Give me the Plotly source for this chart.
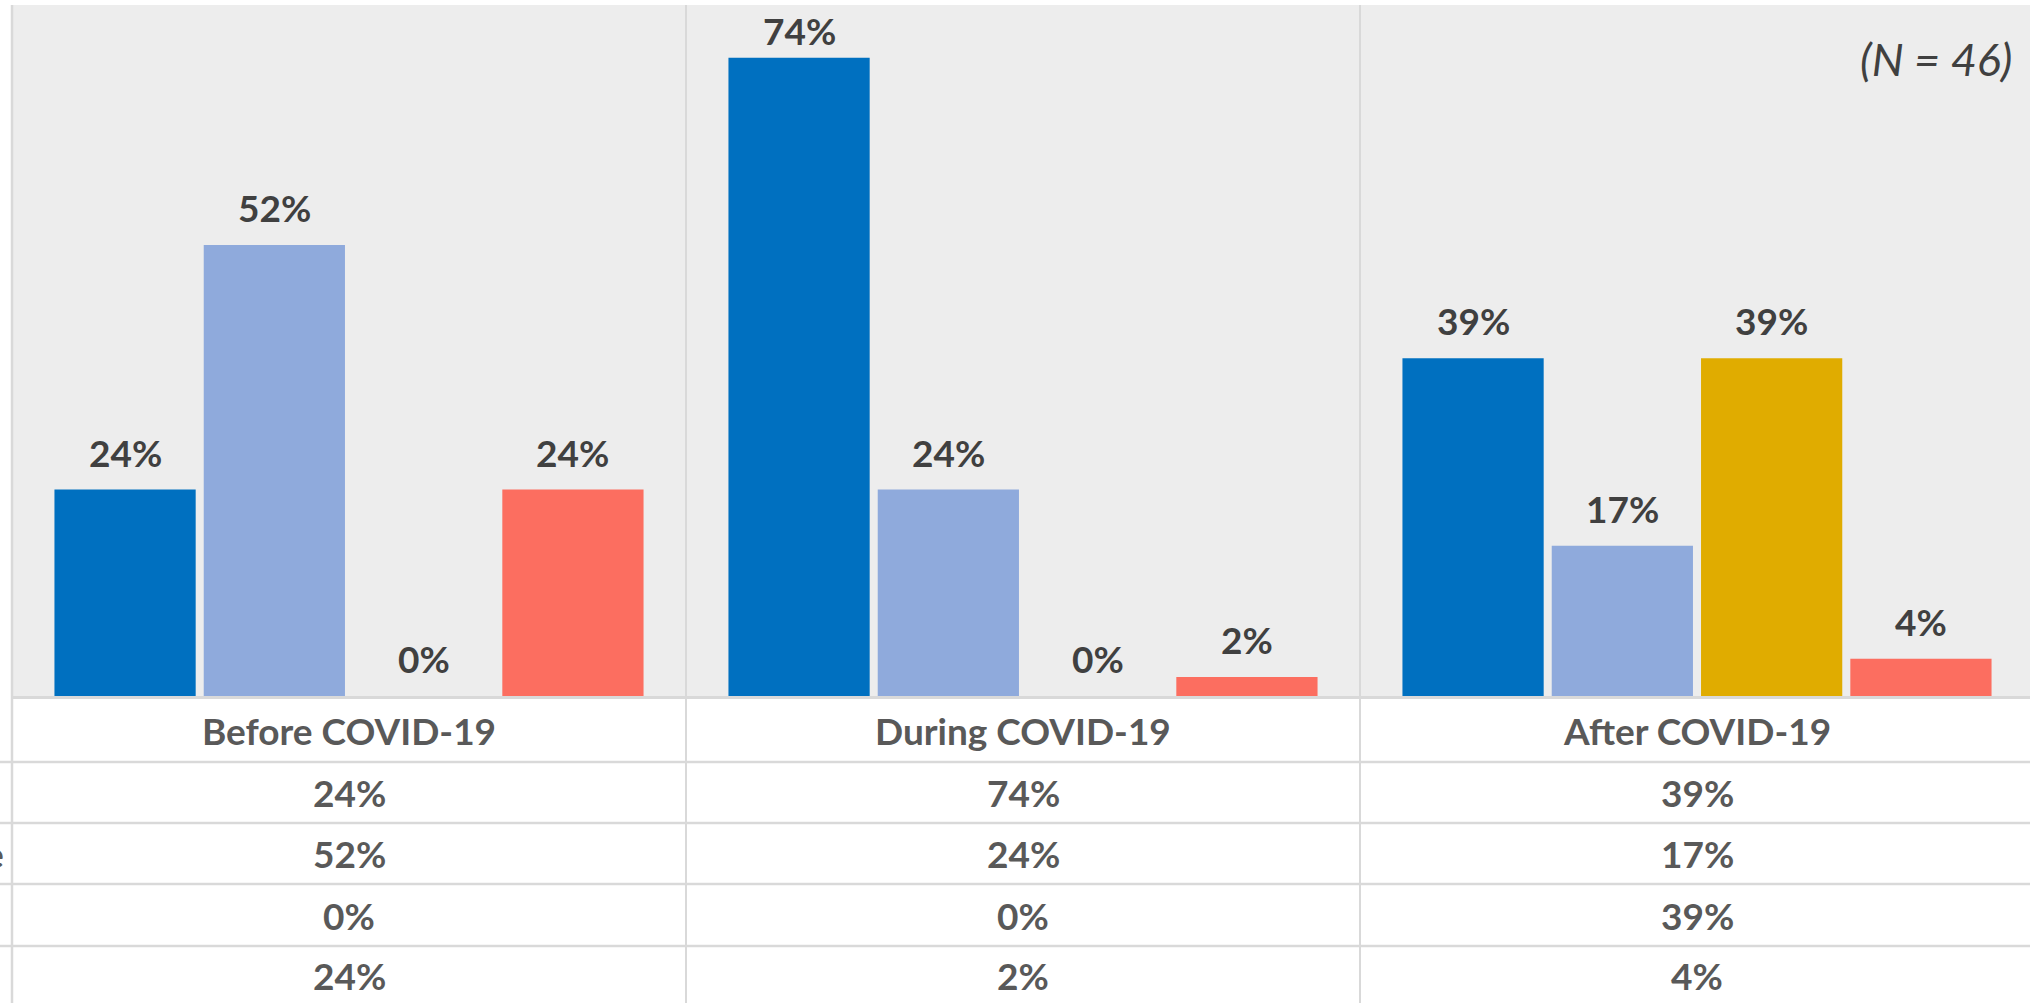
import plotly.graph_objects as go

# ---- data ----
periods = ["Before COVID-19", "During COVID-19", "After COVID-19"]
series_names = ["Series 1", "Series 2", "Series 3", "Series 4"]
series_values = [
    [0.239, 0.739, 0.391],
    [0.522, 0.239, 0.174],
    [0.0, 0.0, 0.391],
    [0.239, 0.022, 0.043],
]
series_colors = ["#0070C0", "#8FAADC", "#E0AC00", "#FC6E60"]
note_text = "(N = 46)"
cut_row_labels = ["", "Online", "", ""]

# ---- layout geometry (pixels) ----
W, H = 2030, 1003
L, T = 12, 5
plot_bottom = 696
plot_h = plot_bottom - T
cat_w = 674.0
Y_MAX = 0.8
BARGAP, BARGROUPGAP = 0.114, 0.054
row_lines_px = [762, 823, 884, 946]
header_center_px = 730
row_centers_px = [792, 853, 915, 975]

def py(p):
    return (plot_bottom - p) / plot_h

FONT = "Lato, 'Open Sans', sans-serif"
LABEL_COLOR = "#404040"
TABLE_COLOR = "#595959"
GRID = "#D9D9D9"

fig = go.Figure()
for name, vals, col in zip(series_names, series_values, series_colors):
    fig.add_trace(go.Bar(
        x=periods, y=vals, name=name,
        marker=dict(color=col, line=dict(width=0)),
        hoverinfo="skip",
    ))

annotations = []
# data labels above bars (at the bar's data value, shifted to its group slot);
# labels near the top are pulled down to stay inside the plot, like the original
slot = cat_w * (1 - BARGAP) / len(series_values)
for k, vals in enumerate(series_values):
    for i, p in enumerate(periods):
        space_above = vals[i] and (1 - vals[i] / Y_MAX) * plot_h
        yshift = min(13, (1 - vals[i] / Y_MAX) * plot_h - 50)
        annotations.append(dict(
            x=p, y=vals[i], xref="x", yref="y",
            text=f"<b>{round(vals[i]*100)}%</b>", showarrow=False,
            xanchor="center", yanchor="bottom",
            xshift=(k - (len(series_values) - 1) / 2) * slot, yshift=yshift,
            font=dict(family=FONT, size=37, color=LABEL_COLOR)))

shapes = []
# left border
shapes.append(dict(type="line", xref="paper", yref="paper", x0=0, x1=0,
                   y0=1, y1=py(H + 10), line=dict(color=GRID, width=2.5)))
# category dividers
for xb in [0.5, 1.5]:
    shapes.append(dict(type="line", xref="x", yref="paper", x0=xb, x1=xb,
                       y0=1, y1=py(H + 10), line=dict(color=GRID, width=2)))
# table horizontal lines
for rp in row_lines_px:
    shapes.append(dict(type="line", xref="paper", yref="paper", x0=-0.01, x1=1,
                       y0=py(rp), y1=py(rp), line=dict(color=GRID, width=2.5)))

for i, p in enumerate(periods):
    annotations.append(dict(x=i, y=py(header_center_px), xref="x", yref="paper",
                            text=f"<b>{p}</b>", showarrow=False,
                            font=dict(family=FONT, size=37, color=TABLE_COLOR),
                            xanchor="center", yanchor="middle"))
    for r, vals in enumerate(series_values):
        annotations.append(dict(x=i, y=py(row_centers_px[r]), xref="x", yref="paper",
                                text=f"<b>{round(vals[i]*100)}%</b>", showarrow=False,
                                font=dict(family=FONT, size=37, color=TABLE_COLOR),
                                xanchor="center", yanchor="middle"))
for r, lab in enumerate(cut_row_labels):
    if lab:
        annotations.append(dict(x=-(L - 6) / (W - L), y=py(row_centers_px[r]),
                                xref="paper", yref="paper", text=f"<b>{lab}</b>",
                                showarrow=False, xanchor="right", yanchor="middle",
                                font=dict(family=FONT, size=37, color=TABLE_COLOR)))
annotations.append(dict(x=(2014 - L) / (W - L), y=py(59), xref="paper", yref="paper",
                        text=f"<i>{note_text}</i>", showarrow=False,
                        xanchor="right", yanchor="middle",
                        font=dict(family=FONT, size=45, color=LABEL_COLOR)))

fig.update_layout(
    width=W, height=H,
    margin=dict(l=L, r=0, t=T, b=H - plot_bottom, pad=0),
    paper_bgcolor="white", plot_bgcolor="#EDEDED",
    barmode="group", bargap=BARGAP, bargroupgap=BARGROUPGAP,
    showlegend=False,
    xaxis=dict(range=[-0.5, -0.5 + (W - L) / cat_w], showticklabels=False,
               ticks="", showgrid=False, zeroline=False,
               showline=True, linecolor=GRID, linewidth=3, fixedrange=True),
    yaxis=dict(range=[0, Y_MAX], showticklabels=False, ticks="", showgrid=False,
               zeroline=False, showline=False, fixedrange=True),
    shapes=shapes, annotations=annotations,
)

fig.write_html("out.html", config={"displayModeBar": False},
               post_script="document.body.style.margin='0';document.body.style.overflow='hidden';")
